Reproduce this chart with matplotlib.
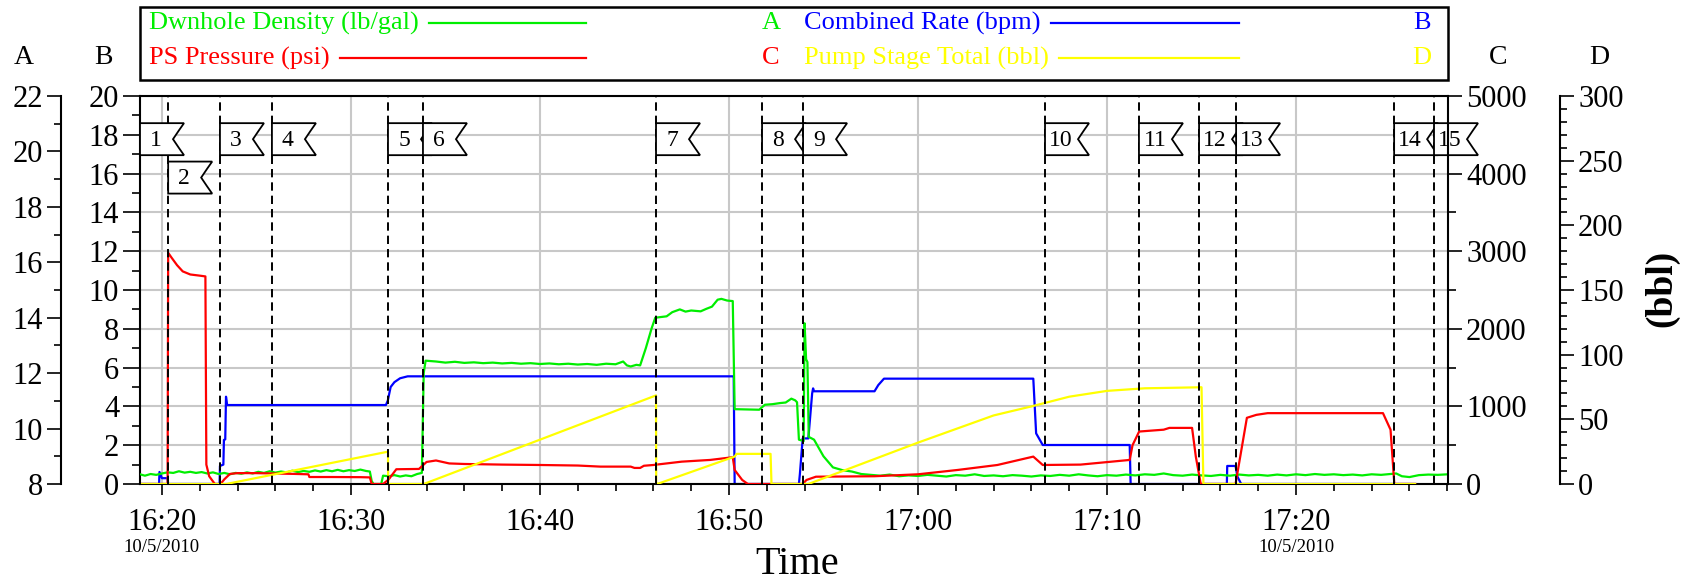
import matplotlib
matplotlib.use("Agg")
import matplotlib.pyplot as plt
from matplotlib.patches import Polygon, Rectangle
from matplotlib.lines import Line2D
from matplotlib.ticker import MultipleLocator, FixedLocator

# ---------------- data (time = minutes after 16:00, 10/5/2010) ----------------
density_t = [18.84, 19.1, 19.4, 19.7, 20.0, 20.3, 20.6, 20.9, 21.2, 21.5, 21.8, 22.1, 22.4, 22.7,
             23.0, 23.3, 23.6, 23.9, 24.2, 24.5, 24.8, 25.1, 25.4, 25.7, 26.0, 26.3, 26.6, 26.9,
             27.2, 27.5, 27.8, 28.1, 28.4, 28.7, 29.0, 29.3, 29.6, 29.9, 30.2, 30.5, 30.8, 31.0,
             31.1, 31.2, 31.6, 31.7, 32.0, 32.3, 32.6, 32.9, 33.2, 33.5, 33.75, 33.85, 33.95,
             34.5, 35.0, 35.5, 36.0, 36.5, 37.0, 37.5, 38.0, 38.5, 39.0, 39.5, 40.0, 40.5, 41.0,
             41.5, 42.0, 42.5, 43.0, 43.5, 44.0, 44.4, 44.6, 44.8, 45.1, 45.3, 45.6, 45.9, 46.1,
             46.7, 47.0, 47.4, 47.7, 48.0, 48.5, 48.8, 49.1, 49.4, 49.6, 49.9, 50.2, 50.3, 51.6,
             51.9, 52.3, 52.7, 53.0, 53.3, 53.5, 53.6, 53.7, 53.95, 54.0, 54.08, 54.15, 54.22,
             54.5, 55.0, 55.5, 56.0, 56.5, 57.0, 57.5, 58.0, 58.5, 59.0, 59.5, 60.0, 60.5, 61.0,
             61.5, 62.0, 62.5, 63.0, 63.5, 64.0, 64.5, 65.0, 65.5, 66.0, 66.5, 67.0, 67.5, 68.0,
             68.5, 69.0, 69.5, 70.0, 70.5, 71.0, 71.5, 72.0, 72.5, 73.0, 73.5, 74.0, 74.5, 75.0,
             75.5, 76.0, 76.5, 77.0, 77.5, 78.0, 78.5, 79.0, 79.5, 80.0, 80.5, 81.0, 81.5, 82.0,
             82.5, 83.0, 83.5, 84.0, 84.5, 85.0, 85.3, 85.6, 86.0, 86.5, 87.0, 87.5, 88.04]
density_ppg = [8.35, 8.30, 8.36, 8.33, 8.38, 8.42, 8.40, 8.46, 8.41, 8.44, 8.40, 8.43, 8.38, 8.42,
               8.36, 8.40, 8.35, 8.40, 8.37, 8.42, 8.38, 8.44, 8.40, 8.46, 8.41, 8.45, 8.42, 8.48,
               8.43, 8.47, 8.44, 8.49, 8.45, 8.50, 8.46, 8.51, 8.46, 8.50, 8.47, 8.52, 8.47, 8.45,
               8.10, 8.00, 8.00, 8.30, 8.28, 8.32, 8.27, 8.31, 8.28, 8.36, 8.40, 12.00, 12.45,
               12.42, 12.38, 12.41, 12.37, 12.39, 12.36, 12.38, 12.35, 12.37, 12.34, 12.36, 12.33, 12.35, 12.32,
               12.34, 12.31, 12.33, 12.30, 12.34, 12.32, 12.42, 12.28, 12.24, 12.30, 12.28, 12.90, 13.60, 14.00,
               14.05, 14.20, 14.30, 14.22, 14.26, 14.23, 14.32, 14.40, 14.65, 14.68, 14.62, 14.60, 10.70, 10.68,
               10.86, 10.88, 10.92, 10.94, 11.08, 11.02, 10.95, 9.60, 9.55, 13.80, 12.50, 12.40, 9.70,
               9.60, 9.00, 8.60, 8.50, 8.45, 8.36, 8.33, 8.30, 8.34, 8.28, 8.31, 8.29, 8.33, 8.30,
               8.27, 8.32, 8.30, 8.35, 8.29, 8.31, 8.28, 8.32, 8.30, 8.27, 8.31, 8.29, 8.33, 8.30,
               8.35, 8.31, 8.28, 8.32, 8.30, 8.34, 8.31, 8.35, 8.33, 8.38, 8.32, 8.30, 8.34, 8.31,
               8.29, 8.33, 8.30, 8.34, 8.31, 8.33, 8.30, 8.34, 8.31, 8.35, 8.32, 8.36, 8.33, 8.35,
               8.32, 8.34, 8.31, 8.35, 8.33, 8.36, 8.38, 8.28, 8.25, 8.32, 8.34, 8.33, 8.35]

pressure_t = [18.84, 20.30, 20.33, 20.5, 20.8, 21.1, 21.5, 22.0, 22.3, 22.35, 22.5, 22.8, 23.1, 23.3,
              23.6, 24.0, 25.0, 26.0, 27.0, 27.75, 27.8, 29.0, 30.5, 31.0, 31.1, 31.7, 32.0, 32.4,
              33.6, 34.0, 34.5, 35.2, 36.0, 38.0, 40.0, 42.0, 43.2, 44.8, 45.0, 45.3, 45.5, 46.0,
              47.5, 49.0, 50.2, 50.3, 50.7, 51.0, 53.9, 54.1, 54.6, 57.7, 60.0, 62.1, 64.2, 66.1,
              66.6, 68.6, 71.2, 71.35, 71.7, 73.0, 73.3, 74.5, 74.7, 74.96, 76.8, 77.4, 77.9, 78.5,
              84.6, 85.0, 85.2, 86.3]
pressure_psi = [0, 0, 2980, 2920, 2820, 2740, 2700, 2685, 2675, 250, 100, 0, 0, 60,
                130, 140, 140, 135, 130, 125, 90, 90, 88, 85, 0, 0, 60, 190,
                194, 284, 303, 265, 258, 250, 245, 238, 224, 224, 207, 207, 235, 245,
                288, 310, 345, 181, 52, 0, 0, 52, 94, 100, 125, 181, 245, 353,
                245, 250, 310, 500, 676, 700, 723, 723, 350, 0, 0, 853, 891, 913,
                913, 700, 0, 0]

rate_t = [18.84, 19.85, 19.87, 20.0, 20.3, 20.33, 23.05, 23.07, 23.25, 23.28, 23.35, 23.39, 23.45,
          31.85, 31.95, 32.1, 32.3, 32.6, 33.0, 50.25, 50.3, 53.7, 53.75, 53.9, 54.2, 54.4, 54.45,
          54.5, 57.7, 57.9, 58.2, 66.1, 66.25, 66.6, 71.2, 71.25, 76.34, 76.36, 76.8, 76.9, 77.1, 86.3]
rate_bpm = [0, 0, 0.62, 0.3, 0.3, 0, 0, 0.93, 1.0, 2.27, 2.3, 4.5, 4.07,
            4.07, 4.3, 5.0, 5.25, 5.45, 5.55, 5.55, 0, 0, 0.5, 2.35, 2.35, 4.67, 4.93,
            4.78, 4.78, 5.1, 5.43, 5.43, 2.61, 2.01, 2.01, 0, 0, 0.93, 0.93, 0.38, 0, 0]

stage_t = [18.84, 23.4, 31.96, 31.97, 33.85, 46.14, 46.15, 46.2, 50.3, 50.4, 52.2, 52.25, 54.2,
           60.0, 64.0, 66.0, 68.0, 70.0, 72.0, 75.0, 75.1, 86.3]
stage_bbl = [0, 0, 25, 0, 0, 68.5, 0, 0, 21.2, 23.3, 23.3, 0, 0,
             32, 53, 60, 67.5, 72, 74, 74.8, 0, 0]

event_t = [18.84, 20.33, 23.07, 25.82, 31.96, 33.81, 46.14, 51.75, 53.92, 66.72, 71.69, 74.87,
           76.83, 85.19, 87.30]
event_label = [str(i) for i in range(1, 16)]
event_row = [0, 1, 0, 0, 0, 0, 0, 0, 0, 0, 0, 0, 0, 0, 0]

xtick_t = [20, 30, 40, 50, 60, 70, 80]
xtick_label = ["16:20", "16:30", "16:40", "16:50", "17:00", "17:10", "17:20"]
date_t = [20, 80]
date_label = ["10/5/2010", "10/5/2010"]

legend_names = ["Dwnhole Density (lb/gal)", "PS Pressure (psi)", "Combined Rate (bpm)", "Pump Stage Total (bbl)"]
legend_axis = ["A", "C", "B", "D"]

# ---------------- figure ----------------
plt.rcParams['font.family'] = ['Liberation Serif', 'DejaVu Serif']
plt.rcParams['lines.scale_dashes'] = False

W, H = 1686, 585
fig = plt.figure(figsize=(W / 100, H / 100), dpi=100)


def fx(px):
    return px / W


def fy(py):
    return 1 - py / H


GREEN, RED, BLUE, YELLOW = '#00ee00', '#ff0000', '#0000ff', '#ffff00'
XMIN, XMAX = 18.84, 88.04
L, R, T, B = 140, 1448, 96, 484
ax = fig.add_axes([fx(L), fy(B), fx(R) - fx(L), fy(T) - fy(B)])
ax.set_zorder(0)
axA = ax.twinx()
axC = ax.twinx()
axD = ax.twinx()
axO = ax.twinx()
for a, z in ((axA, 1), (axC, 1), (axD, 1), (axO, 2)):
    a.set_zorder(z)

SPW = 1.5
tick_kw = dict(labelsize=22, width=1.2, direction='out', pad=3)

# main axis (B)
ax.set_xlim(XMIN, XMAX)
ax.set_ylim(0, 20)
ax.yaxis.set_major_locator(MultipleLocator(2))
ax.yaxis.set_minor_locator(MultipleLocator(1))
ax.tick_params(axis='y', which='major', length=12, **tick_kw)
ax.tick_params(axis='y', which='minor', length=6, width=1.2, direction='out')
ax.xaxis.set_major_locator(FixedLocator(xtick_t))
ax.set_xticklabels(xtick_label)
ax.xaxis.set_minor_locator(MultipleLocator(2))
ax.tick_params(axis='x', which='major', length=8, width=1.2, direction='out', pad=9, labelsize=22)
ax.tick_params(axis='x', which='minor', length=5, width=1.2, direction='out')
ax.grid(True, which='major', color='#c8c8c8', lw=1.5)
ax.set_axisbelow(True)
ax.spines['right'].set_visible(False)
for s in ('left', 'top', 'bottom'):
    ax.spines[s].set_linewidth(SPW)
ax.plot(rate_t, rate_bpm, color=BLUE, lw=1.6, zorder=2)

# axis A (density)
axA.set_ylim(8, 22)
for s in ('right', 'top', 'bottom'):
    axA.spines[s].set_visible(False)
axA.spines['left'].set_visible(True)
axA.spines['left'].set_position(('axes', (61 - L) / (R - L)))
axA.spines['left'].set_linewidth(SPW)
axA.yaxis.set_ticks_position('left')
axA.yaxis.set_major_locator(MultipleLocator(2))
axA.yaxis.set_minor_locator(MultipleLocator(1))
axA.tick_params(axis='y', which='major', length=10, **tick_kw)
axA.tick_params(axis='y', which='minor', length=5, width=1.2, direction='out')
axA.plot(density_t, density_ppg, color=GREEN, lw=1.6)

# axis C (pressure)
axC.set_ylim(0, 5000)
for s in ('left', 'right', 'top', 'bottom'):
    axC.spines[s].set_visible(False)
axC.yaxis.set_ticks_position('right')
axC.yaxis.set_major_locator(MultipleLocator(1000))
axC.yaxis.set_minor_locator(MultipleLocator(500))
axC.tick_params(axis='y', which='major', length=10, **tick_kw)
axC.tick_params(axis='y', which='minor', length=6, width=1.2, direction='out')
axC.plot(pressure_t, pressure_psi, color=RED, lw=1.6)

# axis D (stage total)
axD.set_ylim(0, 300)
for s in ('left', 'top', 'bottom'):
    axD.spines[s].set_visible(False)
axD.spines['right'].set_position(('axes', (1560 - L) / (R - L)))
axD.spines['right'].set_linewidth(SPW)
axD.yaxis.set_ticks_position('right')
axD.yaxis.set_major_locator(MultipleLocator(50))
axD.yaxis.set_minor_locator(MultipleLocator(10))
axD.tick_params(axis='y', which='major', length=10, **tick_kw)
axD.tick_params(axis='y', which='minor', length=5, width=1.2, direction='out')
axD.plot(stage_t, stage_bbl, color=YELLOW, lw=1.6)

# overlay: event lines and flags
axO.set_ylim(0, 20)
axO.yaxis.set_visible(False)
for s in ('left', 'top', 'bottom'):
    axO.spines[s].set_visible(False)
axO.spines['right'].set_linewidth(SPW)
px_per_min = (R - L) / (XMAX - XMIN)
flag_w = 44 / px_per_min
notch = 11 / px_per_min
flag_h = 1.65
row_top = [18.6, 16.62]
for i, (t, lab, row) in enumerate(zip(event_t, event_label, event_row)):
    axO.axvline(t, color='black', lw=1.4, ls=(0, (6, 3.6)), zorder=0.5)
    top = row_top[row]
    bot = top - flag_h
    mid = (top + bot) / 2
    x0, x1 = t, t + flag_w
    pts = [(x0, bot), (x0, top), (x1, top), (x1 - notch * 0.45, top - flag_h * 0.22),
           (x1 - notch, mid), (x1 - notch * 0.45, bot + flag_h * 0.22), (x1, bot)]
    axO.add_patch(Polygon(pts, closed=True, fc='white', ec='black', lw=1.3,
                          clip_on=False, zorder=1 + i * 0.01))
    axO.text(x0 + 16 / px_per_min, mid - 0.05, lab, ha='center', va='center', fontsize=17,
             zorder=1.005 + i * 0.01, clip_on=False)

# date labels under x ticks
for t, lab in zip(date_t, date_label):
    ax.text(t, (B - 547) / (B - T), lab, transform=ax.get_xaxis_transform(),
            ha='center', va='center', fontsize=13.5)

# axis letters and titles
for lab, px in (("A", 24), ("B", 103), ("C", 1498), ("D", 1599)):
    fig.text(fx(px), fy(58), lab, ha='center', va='center', fontsize=20)
fig.text(fx(797), fy(564), "Time", ha='center', va='center', fontsize=29)
fig.text(fx(1662), fy(288), "(bbl)", ha='center', va='center', fontsize=27, rotation=90,
         fontweight='bold')

# legend box
fig.add_artist(Rectangle((fx(L), fy(80)), fx(R) - fx(L), fy(7) - fy(80), transform=fig.transFigure,
                         fill=False, ec='black', lw=1.8))
leg_colors = [GREEN, RED, BLUE, YELLOW]
leg_pos = [(149, 23, 586, 771), (149, 58, 586, 771), (804, 23, 1239, 1422), (804, 58, 1239, 1422)]
fig.canvas.draw()
renderer = fig.canvas.get_renderer()
for name, letter, col, (xt, yr, xe, xl) in zip(legend_names, legend_axis, leg_colors, leg_pos):
    txt = fig.text(fx(xt), fy(yr), name, color=col, ha='left', va='center', fontsize=19)
    bb = txt.get_window_extent(renderer)
    fig.add_artist(Line2D([fx(bb.x1 + 10), fx(xe)], [fy(yr), fy(yr)], transform=fig.transFigure,
                          color=col, lw=1.6))
    fig.text(fx(xl), fy(yr), letter, color=col, ha='center', va='center', fontsize=19)

fig.savefig("out.png", dpi=100, facecolor='white')
